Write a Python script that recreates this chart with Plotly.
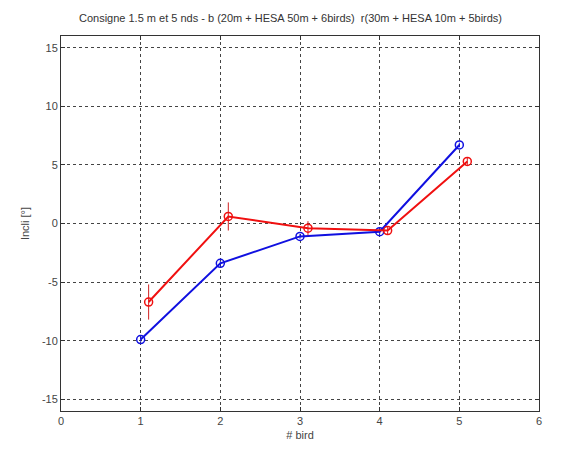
import plotly.graph_objects as go

bird_blue = [1, 2, 3, 4, 5]
incli_blue = [-9.9, -3.4, -1.1, -0.7, 6.7]
err_blue = [0.2, 0.2, 0.2, 0.2, 0.2]

bird_red = [1.1, 2.1, 3.1, 4.1, 5.1]
incli_red = [-6.7, 0.6, -0.4, -0.6, 5.3]
err_red = [1.5, 1.2, 0.6, 0.3, 0.3]

title = "Consigne 1.5 m et 5 nds - b (20m + HESA 50m + 6birds)  r(30m + HESA 10m + 5birds)"
xticks = [0, 1, 2, 3, 4, 5, 6]
yticks = [-15, -10, -5, 0, 5, 10, 15]
ytick_labels = ["-15", "-10", "-5", "0", "5", "10", "15"]

fig = go.Figure()
fig.add_trace(go.Scatter(
    x=bird_blue, y=incli_blue, mode="lines+markers",
    line=dict(color="#1010e0", width=2),
    marker=dict(symbol="circle-open", size=8, color="#1010e0", line=dict(width=1.5)),
    error_y=dict(type="data", array=err_blue, color="#1010e0", thickness=1, width=0),
    showlegend=False))
fig.add_trace(go.Scatter(
    x=bird_red, y=incli_red, mode="lines+markers",
    line=dict(color="#f01010", width=2),
    marker=dict(symbol="circle-open", size=8, color="#f01010", line=dict(width=1.5)),
    error_y=dict(type="data", array=err_red, color="#d02020", thickness=1, width=0),
    showlegend=False))

font = dict(family="Liberation Sans, Arial", size=11, color="#444")
axis_common = dict(
    showline=True, linecolor="#333", linewidth=1, mirror="ticks",
    ticks="inside", ticklen=4, tickcolor="#333",
    showgrid=True, gridcolor="#444", griddash="3px,3px", gridwidth=1,
    zeroline=False, tickfont=font,
)
fig.update_xaxes(range=[0, 6], tickvals=xticks,
                 title=dict(text="# bird", standoff=5, font=font), automargin=False,
                 **axis_common)
fig.update_yaxes(range=[-16, 16], tickvals=yticks, ticktext=ytick_labels,
                 title=dict(text="Incli [°]", standoff=10, font=font),
                 **axis_common)

fig.update_layout(
    width=581, height=450,
    margin=dict(l=61, r=42, t=36, b=39),
    paper_bgcolor="white", plot_bgcolor="white",
    title=dict(text=title, x=0.5, xanchor="center", y=0.96, yanchor="middle",
               font=dict(family="Liberation Sans, Arial", size=11, color="#333")),
)
fig.write_html("out.html")
